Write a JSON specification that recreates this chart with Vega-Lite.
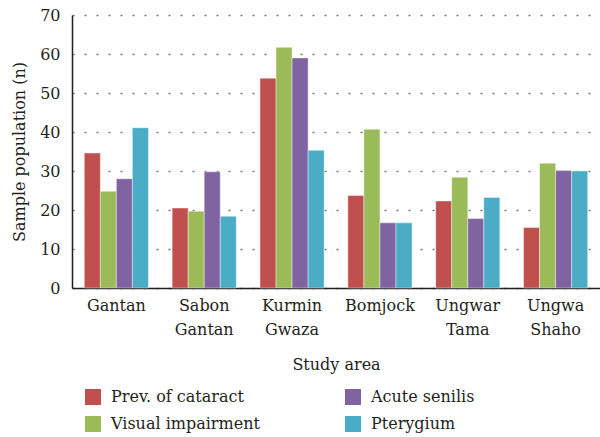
{
  "$schema": "https://vega.github.io/schema/vega-lite/v6.json",
  "width": 528,
  "height": 273,
  "autosize": "none",
  "padding": {"left": 72, "top": 15, "right": 0, "bottom": 149},
  "background": "white",
  "config": {
    "font": "DejaVu Serif",
    "view": {"stroke": null}
  },
  "data": {
    "values": [
      {"area": "Gantan", "series": "Prev. of cataract", "value": 34.6},
      {"area": "Gantan", "series": "Visual impairment", "value": 24.8},
      {"area": "Gantan", "series": "Acute senilis", "value": 28.0},
      {"area": "Gantan", "series": "Pterygium", "value": 41.1},
      {"area": "Sabon Gantan", "series": "Prev. of cataract", "value": 20.5},
      {"area": "Sabon Gantan", "series": "Visual impairment", "value": 19.7},
      {"area": "Sabon Gantan", "series": "Acute senilis", "value": 29.8},
      {"area": "Sabon Gantan", "series": "Pterygium", "value": 18.4},
      {"area": "Kurmin Gwaza", "series": "Prev. of cataract", "value": 53.8},
      {"area": "Kurmin Gwaza", "series": "Visual impairment", "value": 61.7},
      {"area": "Kurmin Gwaza", "series": "Acute senilis", "value": 59.0},
      {"area": "Kurmin Gwaza", "series": "Pterygium", "value": 35.3},
      {"area": "Bomjock", "series": "Prev. of cataract", "value": 23.7},
      {"area": "Bomjock", "series": "Visual impairment", "value": 40.7},
      {"area": "Bomjock", "series": "Acute senilis", "value": 16.7},
      {"area": "Bomjock", "series": "Pterygium", "value": 16.7},
      {"area": "Ungwar Tama", "series": "Prev. of cataract", "value": 22.3},
      {"area": "Ungwar Tama", "series": "Visual impairment", "value": 28.4},
      {"area": "Ungwar Tama", "series": "Acute senilis", "value": 17.8},
      {"area": "Ungwar Tama", "series": "Pterygium", "value": 23.2},
      {"area": "Ungwa Shaho", "series": "Prev. of cataract", "value": 15.5},
      {"area": "Ungwa Shaho", "series": "Visual impairment", "value": 32.0},
      {"area": "Ungwa Shaho", "series": "Acute senilis", "value": 30.1},
      {"area": "Ungwa Shaho", "series": "Pterygium", "value": 30.0}
    ]
  },
  "mark": {"type": "bar", "stroke": "white", "strokeOpacity": 0.4, "strokeWidth": 1},
  "encoding": {
    "x": {
      "field": "area",
      "type": "nominal",
      "sort": ["Gantan", "Sabon Gantan", "Kurmin Gwaza", "Bomjock", "Ungwar Tama", "Ungwa Shaho"],
      "scale": {"paddingInner": 0.27, "paddingOuter": 0.14},
      "axis": {
        "title": "Study area",
        "titleFont": "DejaVu Serif",
        "titleFontSize": 16,
        "titleFontWeight": "normal",
        "titleColor": "#231f20",
        "titlePadding": 19,
        "labelFont": "DejaVu Serif",
        "labelAngle": 0,
        "labelFontSize": 16,
        "labelColor": "#231f20",
        "labelExpr": "split(datum.label, ' ')",
        "labelLineHeight": 24,
        "labelPadding": 9,
        "ticks": false,
        "domainColor": "#231f20",
        "domainWidth": 1.5
      }
    },
    "xOffset": {
      "field": "series",
      "type": "nominal",
      "sort": ["Prev. of cataract", "Visual impairment", "Acute senilis", "Pterygium"]
    },
    "y": {
      "field": "value",
      "type": "quantitative",
      "scale": {"domain": [0, 70]},
      "axis": {
        "title": "Sample population (n)",
        "titleFont": "DejaVu Serif",
        "titleFontSize": 16,
        "titleFontWeight": "normal",
        "titleColor": "#231f20",
        "titlePadding": 12,
        "values": [0, 10, 20, 30, 40, 50, 60, 70],
        "labelFont": "DejaVu Serif",
        "labelFontSize": 16,
        "labelColor": "#231f20",
        "labelPadding": 12,
        "ticks": false,
        "domainColor": "#231f20",
        "domainWidth": 1.5,
        "grid": true,
        "gridColor": "#777777",
        "gridDash": [2, 10],
        "gridWidth": 1.5
      }
    },
    "color": {
      "field": "series",
      "type": "nominal",
      "scale": {
        "domain": ["Prev. of cataract", "Visual impairment", "Acute senilis", "Pterygium"],
        "range": ["#C0504D", "#9BBB59", "#8064A2", "#4BACC6"]
      },
      "legend": {
        "title": null,
        "orient": "none",
        "legendX": 13,
        "legendY": 374,
        "columns": 2,
        "columnPadding": 85,
        "rowPadding": 11,
        "symbolType": "square",
        "symbolSize": 256,
        "symbolStrokeWidth": 0,
        "labelFont": "DejaVu Serif",
        "labelFontSize": 16,
        "labelColor": "#231f20",
        "labelOffset": 10,
        "labelLimit": 300
      }
    }
  }
}
